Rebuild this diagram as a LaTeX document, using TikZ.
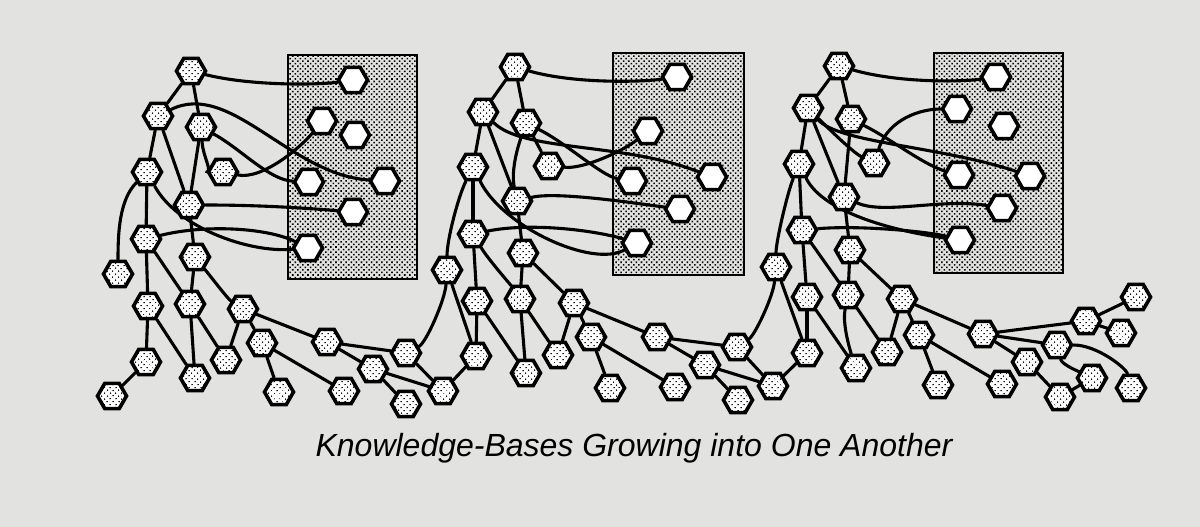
\documentclass[tikz,border=0pt]{standalone}
\usepackage{fontspec}
\setmainfont{Liberation Sans}
\usetikzlibrary{shapes.geometric,patterns.meta}
\pgfdeclarelayer{back}
\pgfdeclarelayer{edges}
\pgfsetlayers{back,edges,main}
\definecolor{pagebg}{RGB}{226,226,224}
\tikzset{
  hx/.style={regular polygon, regular polygon sides=6, minimum size=29pt, inner sep=0pt,
    draw=black, line width=3.6pt, preaction={fill=white},
    pattern={Dots[radius=0.85pt,distance=4pt,angle=45]}, pattern color=black},
  wx/.style={regular polygon, regular polygon sides=6, minimum size=29pt, inner sep=0pt,
    draw=black, line width=3.6pt, fill=white},
  ln/.style={line width=3.1pt, line cap=round},
  boxst/.style={draw=black, line width=2.8pt, preaction={fill=pagebg},
    pattern={Dots[radius=1.1pt,distance=3.6pt,angle=45]}, pattern color=black},
}
\begin{document}
\begin{tikzpicture}[x=1pt,y=-1pt]
\path[use as bounding box] (0,0) rectangle (1200,527);
\begin{pgfonlayer}{back}
\fill[pagebg] (0,0) rectangle (1200,527);
\draw[boxst] (288,55) rectangle (417,279);
\draw[boxst] (613,53) rectangle (744,275);
\draw[boxst] (934,53) rectangle (1063,273);
\end{pgfonlayer}

% ---------- tree 1 ----------
\node[hx] (A1) at (191,71) {};
\node[hx] (B1) at (158,116) {};
\node[hx] (C1) at (201,127) {};
\node[hx] (D1) at (147,172) {};
\node[hx] (E1) at (223,172) {};
\node[hx] (F1) at (189,205) {};
\node[hx] (G1) at (146,239) {};
\node[hx] (H1) at (118,274) {};
\node[hx] (I1) at (195,257) {};
\node[hx] (J1) at (148,306) {};
\node[hx] (K1) at (190,304) {};
\node[hx] (L1) at (243,309) {};
\node[hx] (M1) at (146,362) {};
\node[hx] (N1) at (226,360) {};
\node[hx] (O1) at (262,343) {};
\node[hx] (P1) at (112,396) {};
\node[hx] (Q1) at (195,378) {};
\node[hx] (R1) at (279,392) {};
\node[hx] (S1) at (327,342) {};
\node[hx] (T1) at (344,391) {};
\node[hx] (U1) at (373,369) {};
\node[hx] (V1) at (406,353) {};
\node[hx] (W1) at (406,404) {};
\node[hx] (X1) at (443,391) {};
\node[wx] (p1a) at (353,80) {};
\node[wx] (p1b) at (322,121) {};
\node[wx] (p1c) at (355,135) {};
\node[wx] (p1d) at (309,182) {};
\node[wx] (p1e) at (385,181) {};
\node[wx] (p1f) at (353,212) {};
\node[wx] (p1g) at (308,248) {};

% ---------- tree 2 ----------
\node[hx] (A2) at (515,67) {};
\node[hx] (B2) at (483,112) {};
\node[hx] (C2) at (526,123) {};
\node[hx] (D2) at (473,167) {};
\node[hx] (E2) at (549,166) {};
\node[hx] (F2) at (517,201) {};
\node[hx] (G2) at (473,234) {};
\node[hx] (H2) at (447,270) {};
\node[hx] (I2) at (523,253) {};
\node[hx] (J2) at (477,301) {};
\node[hx] (K2) at (520,299) {};
\node[hx] (L2) at (574,303) {};
\node[hx] (M2) at (476,356) {};
\node[hx] (N2) at (558,355) {};
\node[hx] (O2) at (591,337) {};
\node[hx] (Q2) at (526,373) {};
\node[hx] (R2) at (610,388) {};
\node[hx] (S2) at (657,337) {};
\node[hx] (T2) at (675,387) {};
\node[hx] (U2) at (705,365) {};
\node[hx] (V2) at (737,347) {};
\node[hx] (W2) at (738,400) {};
\node[hx] (X2) at (773,386) {};
\node[wx] (p2a) at (677,77) {};
\node[wx] (p2b) at (648,131) {};
\node[wx] (p2c) at (632,181) {};
\node[wx] (p2d) at (712,177) {};
\node[wx] (p2e) at (680,209) {};
\node[wx] (p2f) at (637,243) {};

% ---------- tree 3 ----------
\node[hx] (A3) at (839,66) {};
\node[hx] (B3) at (808,108) {};
\node[hx] (C3) at (851,119) {};
\node[hx] (D3) at (799,164) {};
\node[hx] (E3) at (874,163) {};
\node[hx] (F3) at (844,197) {};
\node[hx] (G3) at (802,230) {};
\node[hx] (H3) at (776,267) {};
\node[hx] (I3) at (850,250) {};
\node[hx] (J3) at (807,297) {};
\node[hx] (K3) at (848,295) {};
\node[hx] (L3) at (902,299) {};
\node[hx] (M3) at (807,353) {};
\node[hx] (N3) at (887,352) {};
\node[hx] (O3) at (919,335) {};
\node[hx] (Q3) at (856,368) {};
\node[hx] (R3) at (938,385) {};
\node[hx] (S3) at (983,334) {};
\node[hx] (T3) at (1002,384) {};
\node[hx] (U3) at (1027,362) {};
\node[hx] (V3) at (1057,345) {};
\node[hx] (W3) at (1060,397) {};
\node[hx] (X3) at (1092,378) {};
\node[hx] (Y3) at (1131,388) {};
\node[hx] (Z3) at (1086,321) {};
\node[hx] (AA3) at (1136,297) {};
\node[hx] (BB3) at (1121,333) {};
\node[wx] (p3a) at (996,77) {};
\node[wx] (p3b) at (957,109) {};
\node[wx] (p3c) at (1004,126) {};
\node[wx] (p3d) at (959,175) {};
\node[wx] (p3e) at (1030,176) {};
\node[wx] (p3f) at (1002,208) {};
\node[wx] (p3g) at (960,240) {};

\node[font=\itshape\fontsize{32}{38}\selectfont, anchor=base] (cap) at (634,456)
  {Knowledge-Bases Growing into One Another};

\begin{pgfonlayer}{edges}
% tree 1
\draw[ln] (A1) -- (B1);
\draw[ln] (A1) -- (C1);
\draw[ln] (A1) .. controls +(60,15) and +(-35,5) .. (p1a);
\draw[ln] (B1) -- (D1);
\draw[ln] (B1) -- (F1);
\draw[ln] (B1) .. controls +(72,-36) and +(-95,-6) .. (p1e);
\draw[ln] (C1) .. controls +(2,30) and +(-10,0) .. (E1);
\draw[ln] (C1) .. controls +(40,22) and +(-40,-2) .. (p1d);
\draw[ln] (C1) -- (F1);
\draw[ln] (E1) .. controls +(40,8) and +(-20,25) .. (p1b);
\draw[ln] (F1) .. controls +(60,0) and +(-60,-5) .. (p1f);
\draw[ln] (F1) -- (I1);
\draw[ln] (D1) -- (G1);
\draw[ln] (D1) .. controls +(-28,28) and +(0,-40) .. (H1);
\draw[ln] (D1) .. controls +(30,55) and +(-60,5) .. (p1g);
\draw[ln] (G1) .. controls +(60,-15) and +(-40,-20) .. (p1g);
\draw[ln] (G1) -- (J1);
\draw[ln] (G1) -- (K1);
\draw[ln] (I1) -- (K1);
\draw[ln] (I1) .. controls +(20,25) and +(-15,-10) .. (L1);
\draw[ln] (J1) -- (M1);
\draw[ln] (J1) -- (Q1);
\draw[ln] (K1) -- (Q1);
\draw[ln] (K1) -- (N1);
\draw[ln] (L1) -- (N1);
\draw[ln] (L1) -- (O1);
\draw[ln] (L1) -- (S1);
\draw[ln] (O1) -- (R1);
\draw[ln] (O1) -- (T1);
\draw[ln] (M1) -- (P1);
\draw[ln] (S1) -- (V1);
\draw[ln] (S1) -- (U1);
\draw[ln] (U1) -- (W1);
\draw[ln] (U1) -- (X1);
\draw[ln] (V1) -- (X1);
\draw[ln] (V1) .. controls +(20,-10) and +(-2,30) .. (H2);
\draw[ln] (H2) -- (M2);
\draw[ln] (M2) -- (X1);
% tree 2
\draw[ln] (A2) -- (B2);
\draw[ln] (A2) -- (C2);
\draw[ln] (A2) .. controls +(60,17) and +(-35,5) .. (p2a);
\draw[ln] (B2) -- (D2);
\draw[ln] (B2) -- (F2);
\draw[ln] (B2) .. controls +(40,40) and +(-90,-35) .. (p2d);
\draw[ln] (C2) -- (E2);
\draw[ln] (C2) .. controls +(40,20) and +(-30,-5) .. (p2c);
\draw[ln] (C2) .. controls +(-12,35) and +(-5,-25) .. (F2);
\draw[ln] (E2) .. controls +(35,3) and +(-25,20) .. (p2b);
\draw[ln] (F2) .. controls +(40,-10) and +(-40,-5) .. (p2e);
\draw[ln] (F2) -- (I2);
\draw[ln] (D2) -- (G2);
\draw[ln] (D2) .. controls +(-15,30) and +(0,-30) .. (H2);
\draw[ln] (D2) .. controls +(30,60) and +(-45,25) .. (p2f);
\draw[ln] (G2) .. controls +(60,-12) and +(-40,-12) .. (p2f);
\draw[ln] (G2) -- (J2);
\draw[ln] (G2) .. controls +(15,25) and +(-10,-15) .. (K2);
\draw[ln] (I2) -- (K2);
\draw[ln] (I2) -- (L2);
\draw[ln] (J2) -- (M2);
\draw[ln] (J2) -- (Q2);
\draw[ln] (K2) -- (Q2);
\draw[ln] (K2) -- (N2);
\draw[ln] (L2) -- (N2);
\draw[ln] (L2) -- (O2);
\draw[ln] (L2) -- (S2);
\draw[ln] (O2) -- (R2);
\draw[ln] (O2) -- (T2);
\draw[ln] (S2) -- (V2);
\draw[ln] (S2) -- (U2);
\draw[ln] (U2) -- (W2);
\draw[ln] (U2) -- (X2);
\draw[ln] (V2) -- (X2);
\draw[ln] (V2) .. controls +(18,-12) and +(-3,30) .. (H3);
\draw[ln] (H3) -- (M3);
\draw[ln] (M3) -- (X2);
% tree 3
\draw[ln] (A3) -- (B3);
\draw[ln] (A3) -- (C3);
\draw[ln] (A3) .. controls +(60,17) and +(-35,5) .. (p3a);
\draw[ln] (B3) -- (D3);
\draw[ln] (B3) -- (F3);
\draw[ln] (B3) .. controls +(25,25) and +(-20,-10) .. (E3);
\draw[ln] (B3) .. controls +(30,35) and +(-90,-30) .. (p3e);
\draw[ln] (C3) .. controls +(40,20) and +(-35,-10) .. (p3d);
\draw[ln] (C3) -- (F3);
\draw[ln] (E3) .. controls +(15,-45) and +(-35,0) .. (p3b);
\draw[ln] (F3) .. controls +(40,18) and +(-60,-10) .. (p3f);
\draw[ln] (F3) -- (I3);
\draw[ln] (D3) -- (G3);
\draw[ln] (D3) .. controls +(-12,30) and +(0,-25) .. (H3);
\draw[ln] (D3) .. controls +(25,50) and +(-60,-8) .. (p3g);
\draw[ln] (G3) .. controls +(60,-5) and +(-30,-8) .. (p3g);
\draw[ln] (G3) -- (J3);
\draw[ln] (G3) -- (K3);
\draw[ln] (I3) -- (K3);
\draw[ln] (I3) -- (L3);
\draw[ln] (J3) -- (M3);
\draw[ln] (J3) -- (Q3);
\draw[ln] (K3) .. controls +(-6,30) and +(-5,-15) .. (Q3);
\draw[ln] (K3) -- (N3);
\draw[ln] (L3) -- (N3);
\draw[ln] (L3) -- (O3);
\draw[ln] (L3) -- (S3);
\draw[ln] (O3) -- (R3);
\draw[ln] (O3) -- (T3);
\draw[ln] (S3) -- (Z3);
\draw[ln] (S3) -- (U3);
\draw[ln] (S3) -- (V3);
\draw[ln] (Z3) -- (AA3);
\draw[ln] (Z3) -- (BB3);
\draw[ln] (U3) -- (W3);
\draw[ln] (V3) .. controls +(40,0) and +(-5,-20) .. (Y3);
\draw[ln] (V3) .. controls +(5,20) and +(-10,-5) .. (X3);
\draw[ln] (X3) -- (W3);
\end{pgfonlayer}
\end{tikzpicture}
\end{document}
